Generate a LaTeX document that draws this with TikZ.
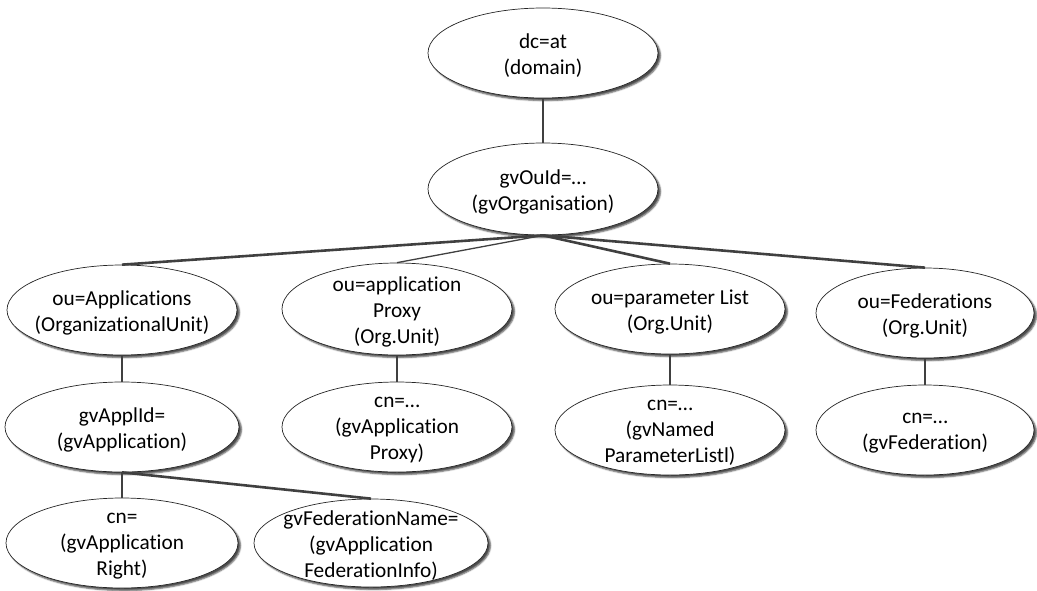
\documentclass[tikz,border=0pt]{standalone}
\usepackage{fontspec}
\setmainfont[Ligatures=CommonOff]{Carlito}
\usetikzlibrary{shapes.geometric,shadows.blur}

\tikzset{
  entry/.style={shape=ellipse, draw=black!85, line width=0.7pt, fill=white,
    inner sep=0pt, minimum width=230pt, minimum height=90pt,
    blur shadow={shadow xshift=2.5pt, shadow yshift=-2.5pt,
      shadow blur radius=1.5pt, shadow opacity=70}},
  entrytext/.style={align=center, inner sep=0pt, text=black, yshift=-3pt,
    font=\fontsize{21.3}{26}\selectfont},
  link/.style={draw=black!75, line width=2.6pt},
  thinlink/.style={draw=black!75, line width=1.3pt}
}

\begin{document}
\begin{tikzpicture}[x=1pt, y=-1pt]
\useasboundingbox (0,0) rectangle (1037,590);

% directory tree entries
\node[entry, label={[entrytext]center:{dc=at\\(domain)}}] (dc) at (543,53) {};
\node[entry, minimum height=92pt, label={[entrytext]center:{gvOuId=…\\(gvOrganisation)}}] (org) at (543,189) {};

\node[entry, label={[entrytext]center:{ou=Applications\\(OrganizationalUnit)}}] (app) at (122,310) {};
\node[entry, minimum height=92pt, label={[entrytext]center:{ou=application\\Proxy\\(Org.Unit)}}] (proxy) at (397,309) {};
\node[entry, label={[entrytext]center:{ou=parameter List\\(Org.Unit)}}] (plist) at (670,309) {};
\node[entry, minimum width=218pt, label={[entrytext]center:{ou=Federations\\(Org.Unit)}}] (fed) at (925,313) {};

\node[entry, minimum width=234pt, label={[entrytext]center:{gvApplId=\\(gvApplication)}}] (appid) at (122,427) {};
\node[entry, label={[entrytext]center:{cn=…\\(gvApplication\\Proxy)}}] (proxycn) at (397,427) {};
\node[entry, label={[entrytext]center:{cn=…\\(gvNamed\\ParameterListl)}}] (plistcn) at (670,430) {};
\node[entry, minimum width=218pt, label={[entrytext]center:{cn=…\\(gvFederation)}}] (fedcn) at (925,430) {};

\node[entry, minimum width=232pt, label={[entrytext]center:{cn=\\(gvApplication\\Right)}}] (right) at (122,543) {};
\node[entry, minimum width=234pt, minimum height=88pt, label={[entrytext]center:{gvFederationName=\\(gvApplication\\FederationInfo)}}] (fedinfo) at (371,543) {};

% connectors
\draw[link] (dc.south) -- (org.north);
\draw[link] (org.south) -- (app.north);
\draw[thinlink] (org.south) -- (proxy.north);
\draw[link] (org.south) -- (plist.north);
\draw[link] (org.south) -- (fed.north);
\draw[link] (app.south) -- (appid.north);
\draw[link] (proxy.south) -- (proxycn.north);
\draw[link] (plist.south) -- (plistcn.north);
\draw[link] (fed.south) -- (fedcn.north);
\draw[link] (appid.south) -- (right.north);
\draw[link] (appid.south) -- (fedinfo.north);
\end{tikzpicture}
\end{document}
